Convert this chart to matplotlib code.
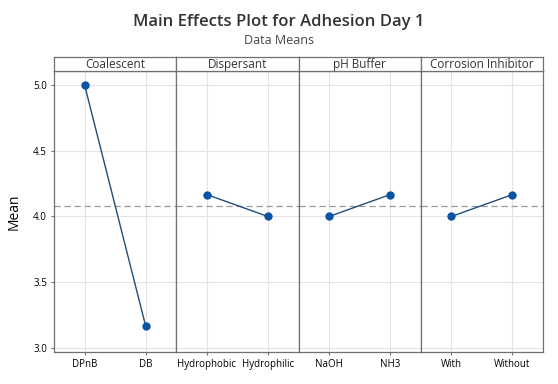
import numpy as np
import matplotlib
matplotlib.use("Agg")
import matplotlib.pyplot as plt

plt.rcParams["font.family"] = ["Open Sans", "DejaVu Sans"]

FACTORS = ["Coalescent", "Dispersant", "pH Buffer", "Corrosion Inhibitor"]
LEVELS = [["DPnB", "DB"], ["Hydrophobic", "Hydrophilic"], ["NaOH", "NH3"], ["With", "Without"]]
MEANS = [[5.0, 3.1667], [4.1667, 4.0], [4.0, 4.1667], [4.0, 4.1667]]
GRAND_MEAN = 4.0833
YTICKS = [3.0, 3.5, 4.0, 4.5, 5.0]

W, H = 558, 384
fig = plt.figure(figsize=(W / 100, H / 100), dpi=100)
fig.text(0.5, 1 - 22 / H, "Main Effects Plot for Adhesion Day 1", ha="center", va="center",
         fontsize=12, fontweight="semibold", color="#333333")
fig.text(0.5, 1 - 41 / H, "Data Means", ha="center", va="center", fontsize=9, color="#444444")

left, right = 54, 543
top_hdr, bot_hdr, bottom = 57, 71, 352
pw = (right - left) / len(FACTORS)
edge = "#707070"
line_c, mark_c = "#1f4e79", "#0b54a4"

for i, (fac, levs, m) in enumerate(zip(FACTORS, LEVELS, MEANS)):
    x0 = (left + i * pw) / W
    ax = fig.add_axes([x0, 1 - bottom / H, pw / W, (bottom - bot_hdr) / H])
    ax.set_xlim(-0.5, 1.5)
    ax.set_ylim(2.97, 5.106)
    ax.grid(True, color="#e3e3e3", lw=0.8)
    ax.set_axisbelow(True)
    ax.axhline(GRAND_MEAN, color="#9a9a9a", ls=(0, (5, 3)), lw=0.9, zorder=1)
    ax.plot([0, 1], m, color=line_c, lw=1.0, zorder=2)
    ax.plot([0, 1], m, "o", color=mark_c, ms=5, zorder=3)
    ax.set_xticks([0, 1])
    ax.set_xticklabels(levs, fontsize=6.5)
    ax.set_yticks(YTICKS)
    for s in ax.spines.values():
        s.set_color(edge)
        s.set_linewidth(0.9)
    ax.tick_params(length=2, color=edge, labelsize=7, pad=3)
    if i == 0:
        ax.set_yticklabels([f"{v:.1f}" for v in YTICKS])
        ax.set_ylabel("Mean", fontsize=10, labelpad=8)
    else:
        ax.tick_params(axis="y", left=False, labelleft=False)

    hd = fig.add_axes([x0, 1 - bot_hdr / H, pw / W, (bot_hdr - top_hdr) / H])
    hd.set_xticks([]); hd.set_yticks([])
    for s in hd.spines.values():
        s.set_color(edge)
        s.set_linewidth(0.9)
    hd.text(0.5, 0.45, fac, ha="center", va="center", fontsize=8.5, color="#333333",
            transform=hd.transAxes)

fig.savefig("out.png", dpi=100)
